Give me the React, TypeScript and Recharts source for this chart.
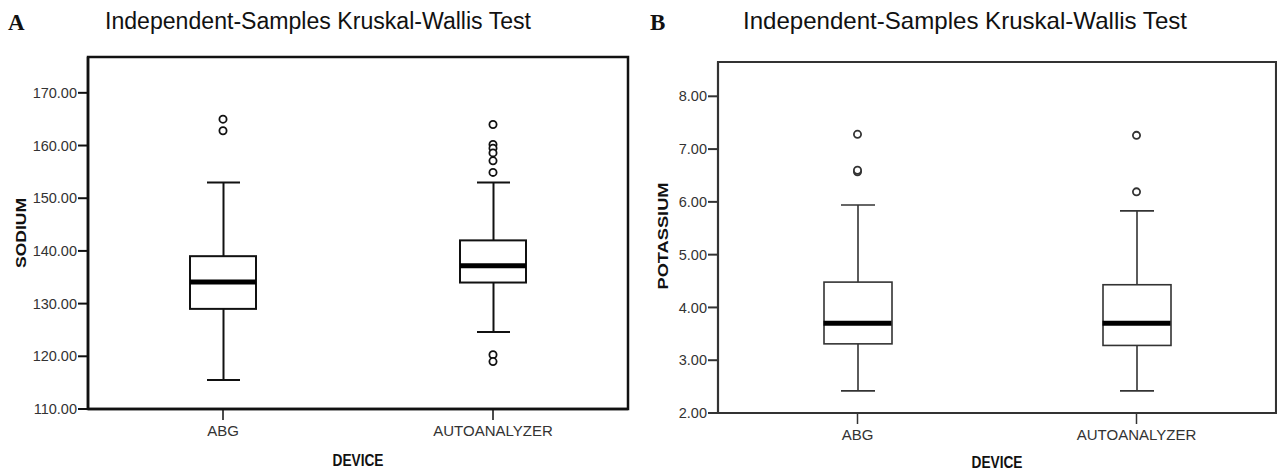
import React from 'react';
import { ComposedChart, Bar, Line, Scatter, XAxis, YAxis, ReferenceArea } from 'recharts';

const devices = ['ABG', 'AUTOANALYZER'];

// Panel A - sodium
const sodiumMin = [115.5, 124.6];
const sodiumQ1 = [129.0, 134.0];
const sodiumMedian = [134.1, 137.2];
const sodiumQ3 = [139.0, 142.0];
const sodiumMax = [153.0, 153.0];
const sodiumOutliersAbg = [165.0, 162.8];
const sodiumOutliersAuto = [164.0, 160.2, 159.5, 158.6, 157.1, 154.9, 120.3, 119.0];
const sodiumTicks = [110, 120, 130, 140, 150, 160, 170];

// Panel B - potassium
const potassiumMin = [2.42, 2.42];
const potassiumQ1 = [3.31, 3.28];
const potassiumMedian = [3.7, 3.7];
const potassiumQ3 = [4.48, 4.43];
const potassiumMax = [5.94, 5.83];
const potassiumOutliersAbg = [7.28, 6.57, 6.6];
const potassiumOutliersAuto = [7.26, 6.19];
const potassiumTicks = [2, 3, 4, 5, 6, 7, 8];

type Row = { device: string; min: number; q1: number; median: number; q3: number; max: number };

function buildRows(min: number[], q1: number[], median: number[], q3: number[], max: number[]): Row[] {
  return devices.map((device, i) => ({ device, min: min[i], q1: q1[i], median: median[i], q3: q3[i], max: max[i] }));
}

function buildOutliers(abg: number[], auto: number[]) {
  return [
    ...abg.map((value) => ({ device: devices[0], value })),
    ...auto.map((value) => ({ device: devices[1], value })),
  ];
}

const sodiumRows = buildRows(sodiumMin, sodiumQ1, sodiumMedian, sodiumQ3, sodiumMax);
const potassiumRows = buildRows(potassiumMin, potassiumQ1, potassiumMedian, potassiumQ3, potassiumMax);
const sodiumOutliers = buildOutliers(sodiumOutliersAbg, sodiumOutliersAuto);
const potassiumOutliers = buildOutliers(potassiumOutliersAbg, potassiumOutliersAuto);

const font = '"Liberation Sans", Arial, sans-serif';

interface PanelProps {
  rows: Row[];
  outliers: Array<{ device: string; value: number }>;
  ticks: number[];
  domain: [number, number];
  width: number;
  height: number;
  margin: { top: number; right: number; bottom: number; left: number };
  ink: string;
  lineWidth: number;
  boxWidth: number;
  capWidth: number;
}

function BoxPanel({ rows, outliers, ticks, domain, width, height, margin, ink, lineWidth, boxWidth, capWidth }: PanelProps) {
  const tickStyle = { fontSize: 14.5, fill: '#333', fontFamily: font };

  const whisker = (props: any) => {
    const { x, y, width: w, height: h } = props;
    const top = Math.min(y, y + h);
    const bottom = Math.max(y, y + h);
    const cx = x + w / 2;
    return (
      <g>
        <line x1={cx} x2={cx} y1={top} y2={bottom} stroke={ink} strokeWidth={lineWidth} />
        <line x1={x} x2={x + w} y1={top} y2={top} stroke={ink} strokeWidth={lineWidth} />
        <line x1={x} x2={x + w} y1={bottom} y2={bottom} stroke={ink} strokeWidth={lineWidth} />
      </g>
    );
  };

  const box = (props: any) => {
    const { x, y, width: w, height: h } = props;
    return <rect x={x} y={Math.min(y, y + h)} width={w} height={Math.abs(h)} fill="#fff" stroke={ink} strokeWidth={lineWidth} />;
  };

  const medianDot = (props: any) => {
    const { cx, cy, index } = props;
    return (
      <line key={`median-${index}`} x1={cx - boxWidth / 2} x2={cx + boxWidth / 2} y1={cy} y2={cy} stroke="#000" strokeWidth={5} />
    );
  };

  const outlierShape = (props: any) => (
    <circle cx={props.cx} cy={props.cy} r={3.6} fill="#fff" stroke={ink} strokeWidth={1.8} />
  );

  return (
    <ComposedChart width={width} height={height} data={rows} margin={margin}>
      <XAxis
        dataKey="device"
        type="category"
        allowDuplicatedCategory={false}
        height={40}
        tickSize={11}
        tickMargin={5}
        tick={{ ...tickStyle, fontSize: 15 }}
        stroke={ink}
        axisLine={{ stroke: ink, strokeWidth: lineWidth + 0.5 }}
        tickLine={{ stroke: ink, strokeWidth: 1.5 }}
        interval={0}
      />
      <XAxis xAxisId="box" dataKey="device" hide />
      <YAxis
        type="number"
        domain={domain}
        allowDataOverflow
        ticks={ticks}
        interval={0}
        width={60}
        tickSize={10}
        tickMargin={1}
        tick={tickStyle}
        tickFormatter={(v: number) => v.toFixed(2)}
        axisLine={{ stroke: ink, strokeWidth: lineWidth + 0.5 }}
        tickLine={{ stroke: ink, strokeWidth: 2 }}
      />
      <ReferenceArea
        x1={devices[0]}
        x2={devices[devices.length - 1]}
        y1={domain[0]}
        y2={domain[1]}
        fill="none"
        stroke={ink}
        strokeWidth={lineWidth + 0.5}
        ifOverflow="visible"
      />
      <Bar dataKey={(d: Row) => [d.min, d.max]} barSize={capWidth} shape={whisker} isAnimationActive={false} />
      <Bar xAxisId="box" dataKey={(d: Row) => [d.q1, d.q3]} barSize={boxWidth} shape={box} isAnimationActive={false} />
      <Line dataKey="median" stroke="none" dot={medianDot} activeDot={false} isAnimationActive={false} />
      <Scatter data={outliers} dataKey="value" shape={outlierShape} isAnimationActive={false} />
    </ComposedChart>
  );
}

export default function App() {
  return (
    <div style={{ position: 'absolute', left: 0, top: 0, width: 1277, height: 471, background: '#fff', overflow: 'hidden' }}>
      <div style={{ position: 'absolute', left: 0, top: 0 }}>
        <BoxPanel
          rows={sodiumRows}
          outliers={sodiumOutliers}
          ticks={sodiumTicks}
          domain={[110, 176.8]}
          width={640}
          height={471}
          margin={{ top: 57, right: 12, bottom: 22, left: 28 }}
          ink="#111"
          lineWidth={2}
          boxWidth={66}
          capWidth={33}
        />
      </div>
      <div style={{ position: 'absolute', left: 640, top: 0 }}>
        <BoxPanel
          rows={potassiumRows}
          outliers={potassiumOutliers}
          ticks={potassiumTicks}
          domain={[2, 8.65]}
          width={637}
          height={471}
          margin={{ top: 62, right: 1, bottom: 18, left: 18 }}
          ink="#333"
          lineWidth={1.6}
          boxWidth={68}
          capWidth={34}
        />
      </div>
      <svg width={1277} height={471} style={{ position: 'absolute', left: 0, top: 0, pointerEvents: 'none' }}>
        <text x={8} y={30} fontFamily='"Liberation Serif", serif' fontWeight="bold" fontSize={23} fill="#111">A</text>
        <text x={105} y={29} fontFamily={font} fontSize={23} fill="#111" textLength={426} lengthAdjust="spacingAndGlyphs">
          Independent-Samples Kruskal-Wallis Test
        </text>
        <text x={650} y={30} fontFamily='"Liberation Serif", serif' fontWeight="bold" fontSize={23} fill="#111">B</text>
        <text x={743} y={29} fontFamily={font} fontSize={24} fill="#111" textLength={444} lengthAdjust="spacingAndGlyphs">
          Independent-Samples Kruskal-Wallis Test
        </text>
        <text
          x={0}
          y={0}
          transform="translate(26 233) rotate(-90)"
          textAnchor="middle"
          fontFamily={font}
          fontWeight="bold"
          fontSize={15}
          fill="#111"
          textLength={70}
          lengthAdjust="spacingAndGlyphs"
        >
          SODIUM
        </text>
        <text
          x={0}
          y={0}
          transform="translate(668 236) rotate(-90)"
          textAnchor="middle"
          fontFamily={font}
          fontWeight="bold"
          fontSize={15}
          fill="#111"
          textLength={107}
          lengthAdjust="spacingAndGlyphs"
        >
          POTASSIUM
        </text>
        <text x={358} y={466} textAnchor="middle" fontFamily={font} fontWeight="bold" fontSize={16} fill="#111" textLength={51} lengthAdjust="spacingAndGlyphs">
          DEVICE
        </text>
        <text x={997} y={468} textAnchor="middle" fontFamily={font} fontWeight="bold" fontSize={16} fill="#111" textLength={51} lengthAdjust="spacingAndGlyphs">
          DEVICE
        </text>
      </svg>
    </div>
  );
}
